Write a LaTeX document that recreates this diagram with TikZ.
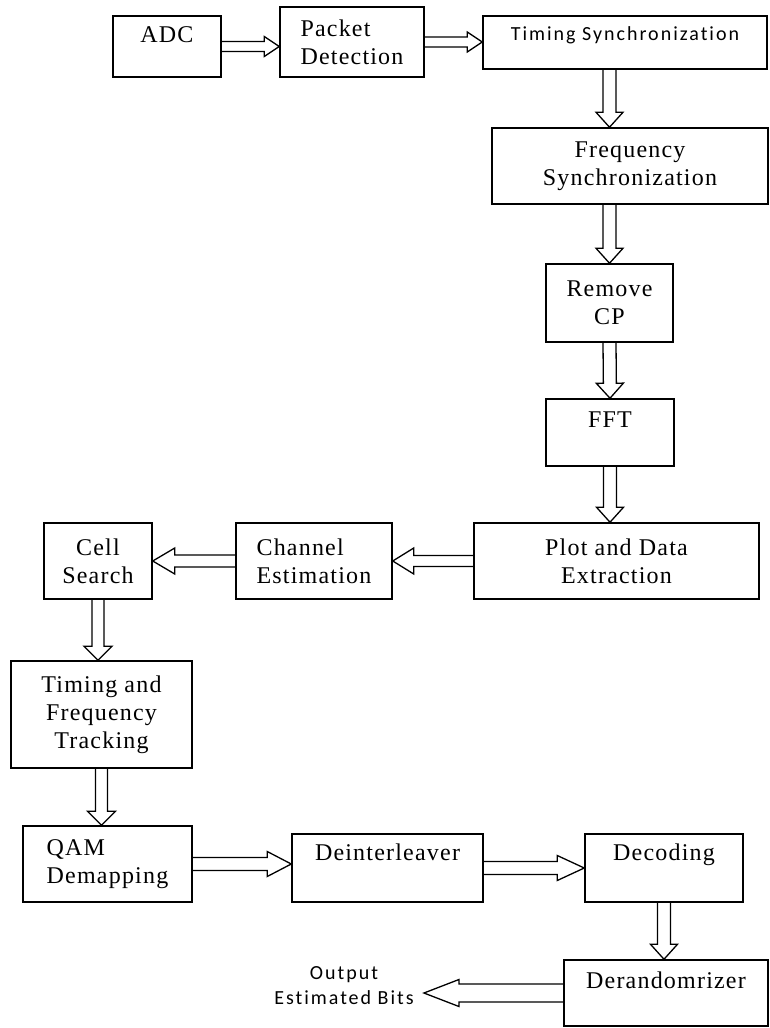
\documentclass[tikz,border=0pt]{standalone}
\usepackage{fontspec}
\setmainfont{Liberation Serif}[LetterSpace=5]
\newfontfamily\sansf{Carlito}[LetterSpace=10, Ligatures=NoCommon]
\usetikzlibrary{calc}

\tikzset{
  blk/.style={draw, line width=1.5pt, inner sep=0pt, align=center,
    font=\fontsize{24}{28}\selectfont},
  toptext/.style={text height=16pt, text depth=#1},
  arr/.style={line width=1.3pt, line join=miter},
}
% hollow block arrow: from, to, half shaft, half head, head length
\newcommand{\fatarrow}[5]{%
  \draw[arr] ($(#1)!#3!90:(#2)$)
    -- ($($(#2)!#5!(#1)$)!#3!90:(#2)$)
    -- ($($(#2)!#5!(#1)$)!#4!90:(#2)$)
    -- (#2)
    -- ($($(#2)!#5!(#1)$)!#4!-90:(#2)$)
    -- ($($(#2)!#5!(#1)$)!#3!-90:(#2)$)
    -- ($(#1)!#3!-90:(#2)$);}

\begin{document}
\begin{tikzpicture}[x=1pt, y=-1pt]
	\fill[white] (0,0) rectangle (770,1028);
	\useasboundingbox (0,0) rectangle (770,1028);

	% top row
	\node[blk, minimum width=108pt, minimum height=61pt, toptext=25pt] (adc) at (167,46.5) {ADC};
	\node[blk, minimum width=144pt, minimum height=70pt, align=left] (pkt) at (352,42) {Packet\\Detection};
	\node[blk, minimum width=284pt, minimum height=53pt, toptext=21pt,
		font=\sansf\fontsize{20}{23}\selectfont] (tsync) at (625,42.5) {Timing Synchronization};

	% right column
	\node[blk, minimum width=276pt, minimum height=76pt] (fsync) at (630,166) {Frequency\\Synchronization};
	\node[blk, minimum width=127pt, minimum height=78pt] (rcp) at (609.5,303) {Remove\\CP};
	\node[blk, minimum width=128pt, minimum height=67pt, toptext=27pt] (fft) at (610,432.5) {FFT};
	\node[blk, minimum width=285pt, minimum height=76pt] (pde) at (616.5,561) {Plot and Data\\Extraction};

	% middle row
	\node[blk, minimum width=156pt, minimum height=76pt, align=left] (chest) at (314,561) {Channel\\Estimation};
	\node[blk, minimum width=108pt, minimum height=76pt] (cell) at (98,561) {Cell\\Search};
	\node[blk, minimum width=181pt, minimum height=107pt] (tft) at (101.5,714.5) {Timing and\\Frequency\\Tracking};

	% bottom rows
	\node[blk, minimum width=169pt, minimum height=76pt, align=left] (qam) at (107.5,864) {QAM\\Demapping};
	\node[blk, minimum width=191pt, minimum height=68pt, toptext=32pt] (dint) at (387.5,868) {Deinterleaver};
	\node[blk, minimum width=158pt, minimum height=68pt, toptext=32pt] (dec) at (664,868) {Decoding};
	\node[blk, minimum width=204pt, minimum height=66pt, toptext=26pt] (der) at (666,993) {Derandomrizer};
	\node[align=center, inner ysep=0pt, inner xsep=10pt,
		font=\sansf\fontsize{20}{25}\selectfont] (out) at (344,986) {Output\\Estimated Bits};

	% connectors
	\fatarrow{adc.east}{adc.east -| pkt.west}{5pt}{10pt}{15pt}
	\fatarrow{pkt.east}{pkt.east -| tsync.west}{5pt}{10pt}{15pt}
	\fatarrow{tsync.south -| rcp.north}{fsync.north -| rcp.north}{6.5pt}{13.5pt}{15pt}
	\fatarrow{fsync.south -| rcp.north}{rcp.north}{6.5pt}{13.5pt}{15pt}
	\fatarrow{rcp.south}{fft.north}{6.5pt}{13.5pt}{15pt}
	\fatarrow{fft.south}{pde.north -| fft.south}{6.5pt}{13.5pt}{15pt}
	\fatarrow{pde.west}{chest.east}{5.5pt}{13pt}{21pt}
	\fatarrow{chest.west}{cell.east}{6pt}{13pt}{22pt}
	\fatarrow{cell.south}{tft.north -| cell.south}{6pt}{14pt}{14pt}
	\fatarrow{tft.south}{qam.north -| tft.south}{6pt}{14pt}{14pt}
	\fatarrow{qam.east}{qam.east -| dint.west}{6.5pt}{12.5pt}{24pt}
	\fatarrow{dint.east}{dec.west}{6.5pt}{12.5pt}{27pt}
	\fatarrow{dec.south}{der.north -| dec.south}{6.5pt}{13.5pt}{15pt}
	\fatarrow{der.west}{der.west -| out.east}{9pt}{13.5pt}{35pt}
\end{tikzpicture}
\end{document}
